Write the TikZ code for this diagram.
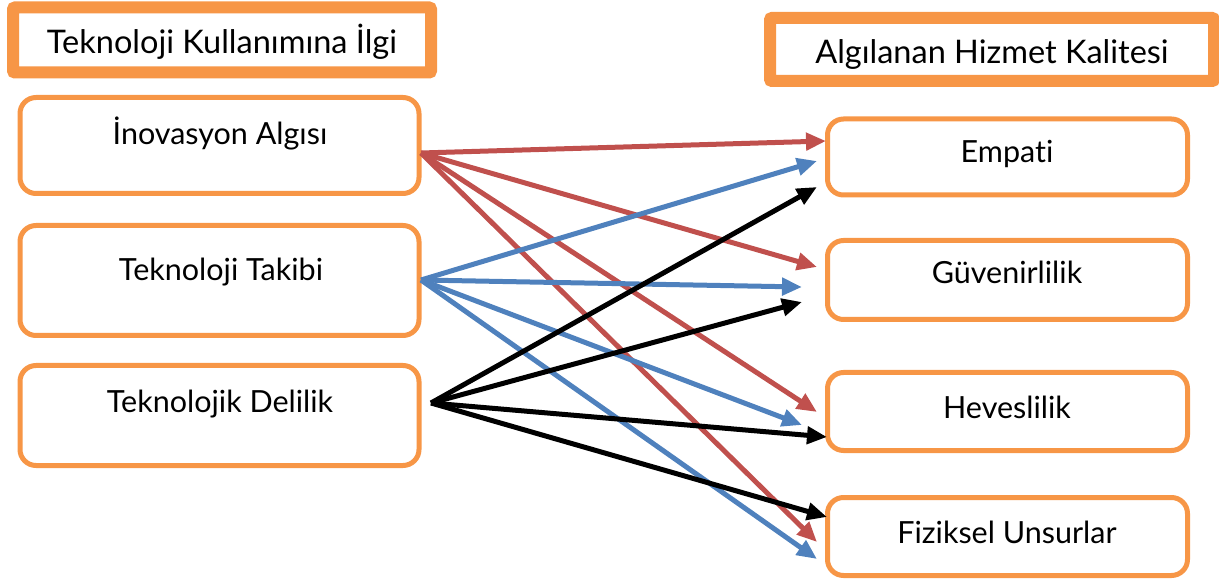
\documentclass[tikz,border=0pt]{standalone}
\usepackage{fontspec}
\setmainfont{Lato}[Ligatures=NoCommon]
\usetikzlibrary{arrows.meta}
\definecolor{orng}{HTML}{F79646}
\definecolor{redar}{HTML}{C0504D}
\definecolor{bluar}{HTML}{4F81BD}
\tikzset{
  titlebox/.style={draw=orng, line width=12pt, fill=white, rounded corners=2pt, inner sep=0pt},
  itembox/.style={draw=orng, line width=5pt, fill=white, rounded corners=16pt, inner sep=0pt},
  lbl/.style={anchor=base, font=\fontsize{30.5}{34}\selectfont, inner sep=0pt},
  tlbl/.style={anchor=base, font=\fontsize{32.5}{36}\selectfont, inner sep=0pt},
  conn/.style={line width=5pt, -{Triangle[length=20pt,width=17pt]}, shorten >=0pt},
  rc/.style={conn, draw=redar},
  bc/.style={conn, draw=bluar},
  kc/.style={conn, draw=black},
}
\begin{document}
\begin{tikzpicture}[x=1pt,y=-1pt]
\useasboundingbox (0,0) rectangle (1219,585);
% titles
\node[titlebox, minimum width=418pt, minimum height=65pt] (t1) at (222,40) {};
\node[tlbl] (t1t) at (222,54) {Teknoloji Kullanımına İlgi};
\node[titlebox, minimum width=444pt, minimum height=63pt] (t2) at (992,49.5) {};
\node[tlbl] (t2t) at (992,64) {Algılanan Hizmet Kalitesi};
% left boxes
\node[itembox, minimum width=399pt, minimum height=96pt] (b1) at (219.5,145.5) {};
\node[lbl] (b1t) at (220,145) {İnovasyon Algısı};
\node[itembox, minimum width=399pt, minimum height=110pt] (b2) at (219.5,280.5) {};
\node[lbl] (b2t) at (221,281) {Teknoloji Takibi};
\node[itembox, minimum width=399pt, minimum height=100pt] (b3) at (219.5,415.5) {};
\node[lbl] (b3t) at (220,413) {Teknolojik Delilik};
% right boxes
\node[itembox, minimum width=360pt, minimum height=76pt] (r1) at (1007.5,157) {};
\node[lbl] (r1t) at (1007,163) {Empati};
\node[itembox, minimum width=360pt, minimum height=79pt] (r2) at (1007.5,280) {};
\node[lbl] (r2t) at (1007,284) {Güvenirlilik};
\node[itembox, minimum width=360pt, minimum height=78pt] (r3) at (1007.5,411.5) {};
\node[lbl] (r3t) at (1007,418) {Heveslilik};
\node[itembox, minimum width=360pt, minimum height=78pt] (r4) at (1007.5,536.5) {};
\node[lbl] (r4t) at (1007,543) {Fiziksel Unsurlar};
% start points
\coordinate (s1) at (421,153);
\coordinate (s2) at (421,280);
\coordinate (s3) at (431,403);
% end points
\coordinate (e1r) at (826,141);
\coordinate (e2r) at (817,267);
\coordinate (e3r) at (817,412);
\coordinate (e4r) at (817,542);
\coordinate (e1b) at (817,161);
\coordinate (e2b) at (802,287);
\coordinate (e3b) at (802,425);
\coordinate (e4b) at (817,559);
\coordinate (e1k) at (817,187);
\coordinate (e2k) at (802,302);
\coordinate (e3k) at (827,437);
\coordinate (e4k) at (827,517);
% arrows
\draw[rc] (s1) -- (e1r);
\draw[rc] (s1) -- (e2r);
\draw[rc] (s1) -- (e3r);
\draw[rc] (s1) -- (e4r);
\draw[bc] (s2) -- (e1b);
\draw[bc] (s2) -- (e2b);
\draw[bc] (s2) -- (e3b);
\draw[bc] (s2) -- (e4b);
\draw[kc] (s3) -- (e1k);
\draw[kc] (s3) -- (e2k);
\draw[kc] (s3) -- (e3k);
\draw[kc] (s3) -- (e4k);
\end{tikzpicture}
\end{document}
